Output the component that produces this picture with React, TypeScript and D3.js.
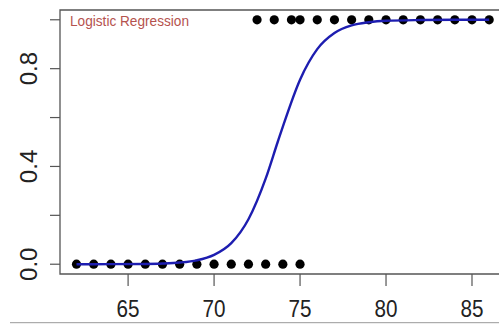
// Logistic regression curve over binary outcomes
import * as d3 from 'd3'
import { FC } from 'react'


const WIDTH = 499
const HEIGHT = 325
const PLOT = { left: 60, top: 10, right: 505.7, bottom: 274 }

// observations with outcome 0
const ZERO_X = [62, 63, 64, 65, 66, 67, 68, 69, 70, 71, 72, 73, 74, 75]
// observations with outcome 1
const ONE_X = [72.5, 73.5, 74.5, 75, 76, 77, 78, 79, 80, 81, 82, 83, 84, 85, 86]

// fitted probability
const CURVE_X = [62, 64, 66, 67, 68, 69, 70, 71, 72, 73, 73.7, 74, 75, 76, 77, 78, 79, 80, 82, 84, 86]
const CURVE_P = [0, 0.0002, 0.0012, 0.0029, 0.0068, 0.016, 0.038, 0.086, 0.184, 0.35, 0.5, 0.563, 0.755, 0.88, 0.946, 0.977, 0.99, 0.996, 0.999, 1, 1]

const X_TICKS = [65, 70, 75, 80, 85]
const Y_TICKS = [0, 0.2, 0.4, 0.6, 0.8, 1.0]
const Y_LABELS = ['0.0', '', '0.4', '', '0.8', '']

const TITLE = 'Logistic Regression'
const FONT = 'Liberation Sans, Arial, Helvetica, sans-serif'


const App: FC = () => {
  const xScale = d3.scaleLinear().domain([61.04, 86.96]).range([PLOT.left, PLOT.right])
  const yScale = d3.scaleLinear().domain([-0.04, 1.04]).range([PLOT.bottom, PLOT.top])

  const line = d3
    .line<number>()
    .x((d) => xScale(d))
    .y((_, i) => yScale(CURVE_P[i]))
    .curve(d3.curveMonotoneX)

  const axisColor = '#555'

  return (
    <svg
      width={ WIDTH }
      height={ HEIGHT }
      style={{ position: 'absolute', left: 0, top: 0, background: '#fff' }}
      fontFamily={ FONT }
    >
      {/* plot box */}
      <path
        d={ `M${PLOT.right},${PLOT.top}H${PLOT.left}V${PLOT.bottom}H${PLOT.right}` }
        fill='none'
        stroke={ axisColor }
        strokeWidth={ 1.3 }
      />

      {/* y axis */}
      { Y_TICKS.map((t, i) => (
        <g key={ 'y' + i }>
          <line x1={ PLOT.left - 10 } x2={ PLOT.left } y1={ yScale(t) } y2={ yScale(t) } stroke={ axisColor } strokeWidth={ 1.2 } />
          { Y_LABELS[i] && (
            <text
              transform={ `translate(37,${yScale(t)}) rotate(-90)` }
              textAnchor='middle'
              fontSize={ 24 }
              fill='#222'
            >
              { Y_LABELS[i] }
            </text>
          ) }
        </g>
      )) }

      {/* x axis */}
      { X_TICKS.map((t) => (
        <g key={ 'x' + t }>
          <line x1={ xScale(t) } x2={ xScale(t) } y1={ PLOT.bottom } y2={ PLOT.bottom + 12 } stroke={ axisColor } strokeWidth={ 1.2 } />
          <text
            x={ xScale(t) }
            y={ 317 }
            textAnchor='middle'
            fontSize={ 24 }
            fill='#222'
            textLength={ 23 }
            lengthAdjust='spacingAndGlyphs'
          >
            { t }
          </text>
        </g>
      )) }

      {/* points */}
      { ZERO_X.map((v, i) => (
        <circle key={ 'z' + i } cx={ xScale(v) } cy={ yScale(0) } r={ 4.6 } fill='#000' />
      )) }
      { ONE_X.map((v, i) => (
        <circle key={ 'o' + i } cx={ xScale(v) } cy={ yScale(1) } r={ 4.6 } fill='#000' />
      )) }

      {/* fitted curve */}
      <path
        d={ line(CURVE_X) as string }
        fill='none'
        stroke='#1d1db0'
        strokeWidth={ 2.4 }
      />

      <text
        x={ 70 }
        y={ 26 }
        fontSize={ 14 }
        fill='#b5524e'
        textLength={ 119 }
        lengthAdjust='spacingAndGlyphs'
      >
        { TITLE }
      </text>

      {/* bottom edge of the frame */}
      <line x1={ 10 } x2={ WIDTH } y1={ 322.7 } y2={ 322.7 } stroke='#999' strokeWidth={ 1 } />
    </svg>
  )
}


export default App
